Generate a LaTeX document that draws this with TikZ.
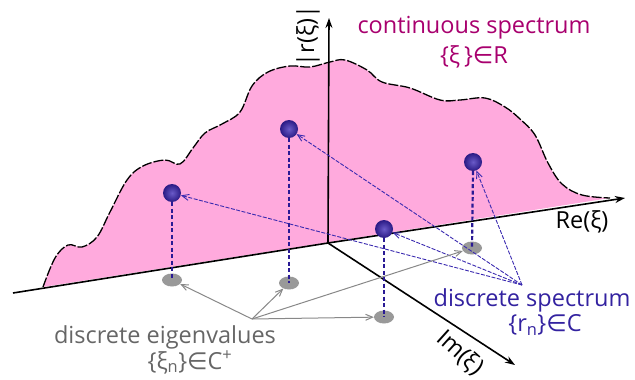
\documentclass[tikz,border=0pt]{standalone}
\usepackage{fontspec}
\setmainfont{Open Sans}
\newfontfamily\symf{DejaVu Sans}
\usetikzlibrary{arrows.meta,shapes.geometric}
\definecolor{pinkfill}{HTML}{FFAADD}
\definecolor{magtext}{HTML}{A8006E}
\definecolor{bluetext}{HTML}{3322A0}
\definecolor{greytext}{HTML}{666666}
\definecolor{dotgrey}{HTML}{999999}
\definecolor{arrgrey}{HTML}{888888}
\definecolor{sphdark}{HTML}{2A1A85}
\definecolor{sphlight}{HTML}{6A5AC8}
\definecolor{dashblue}{HTML}{2A1A95}
\definecolor{arrblue}{HTML}{3A2AB0}
\begin{document}
\begin{tikzpicture}[x=1pt,y=-1pt,
  axisline/.style={line width=1.6pt,-{Stealth[length=10pt,width=7pt]}},
  ball/.style={circle,inner sep=0pt,minimum size=18pt,inner color=sphlight,outer color=sphdark,shade},
  floordot/.style={ellipse,inner sep=0pt,minimum width=20pt,minimum height=13pt,fill=dotgrey},
  drop/.style={dashblue,line width=2.2pt,dash pattern=on 4pt off 2.5pt},
  bluearrow/.style={arrblue,line width=0.9pt,dash pattern=on 4pt off 1.5pt,-{Straight Barb[length=7pt,width=6pt]}},
  greyarrow/.style={arrgrey,line width=1pt,-{Straight Barb[length=7pt,width=6pt]}},
  lab/.style={font=\fontsize{23.5}{26}\selectfont,inner sep=0pt}]
\useasboundingbox (0,0) rectangle (635,380);

% continuous spectrum region
\def\curvepts{(43,287) (55,258) (68,245) (82,247) (97,237) (110,212) (127,180) (143,166) (165,160) (180,164) (193,148) (205,133) (222,124) (240,112) (252,86) (268,72) (290,66) (310,67) (330,62) (345,60) (367,70) (382,82) (410,88) (440,100) (460,100) (485,98) (505,107) (520,119) (535,135) (548,163) (562,184) (582,195) (610,198)}
\fill[pinkfill] plot[smooth,tension=0.6] coordinates {\curvepts} -- cycle;
\draw[black,line width=1.3pt,dash pattern=on 10pt off 2pt] plot[smooth,tension=0.6] coordinates {\curvepts};

% axes
\coordinate (O) at (328,243);
\coordinate (reL) at (13,293);
\coordinate (reR) at (625,198);
\coordinate (up) at (329,18);
\coordinate (im) at (515,365);
\draw[line width=1.6pt] (O) -- (reL);
\draw[axisline] (O) -- (reR);
\draw[axisline] (O) -- (up);
\draw[axisline] (O) -- (im);

% floor dots
\node[floordot] (g1) at (172,280) {};
\node[floordot] (g2) at (289,283) {};
\node[floordot] (g3) at (472,248) {};
\node[floordot] (g4) at (384,317) {};

% spheres
\node[ball] (s1) at (172,193) {};
\node[ball] (s2) at (289,129) {};
\node[ball] (s3) at (473,162) {};
\node[ball] (s4) at (384,229) {};

\draw[drop] (s1.south) -- (g1.center);
\draw[drop] (s2.south) -- (g2.center);
\draw[drop] (s3.south) -- (g3.center);
\draw[drop] (s4.south) -- (g4.center);

% arrows
\coordinate (bsrc) at (522,285);
\coordinate (gsrc) at (252,319);
\foreach \t in {s1,s2,s3,s4} \draw[bluearrow] (bsrc) -- (\t);
\foreach \t in {g1,g2,g3,g4} \draw[greyarrow] (gsrc) -- (\t);

% labels
\node[lab,magtext] (ct1) at (474,28) {continuous spectrum};
\node[lab,magtext] (ct2) at (474,57) {\{ξ\,\}{\symf ∈}R};
\node[lab,rotate=90] (ylab) at (308,36) {|r(ξ)|};
\node[lab] (relab) at (582,222) {Re(ξ)};
\node[lab,rotate=-42] (imlab) at (460,353) {Im(ξ)};
\node[lab,bluetext] (ds1) at (532,300) {discrete spectrum};
\node[lab,bluetext] (ds2) at (545,325) {\{r\textsubscript{n}\}{\symf ∈}C};
\node[lab,greytext] (de1) at (165,337) {discrete eigenvalues};
\node[lab,greytext] (de2) at (190,362) {\{ξ\textsubscript{n}\}{\symf ∈}C\textsuperscript{+}};
\end{tikzpicture}
\end{document}
